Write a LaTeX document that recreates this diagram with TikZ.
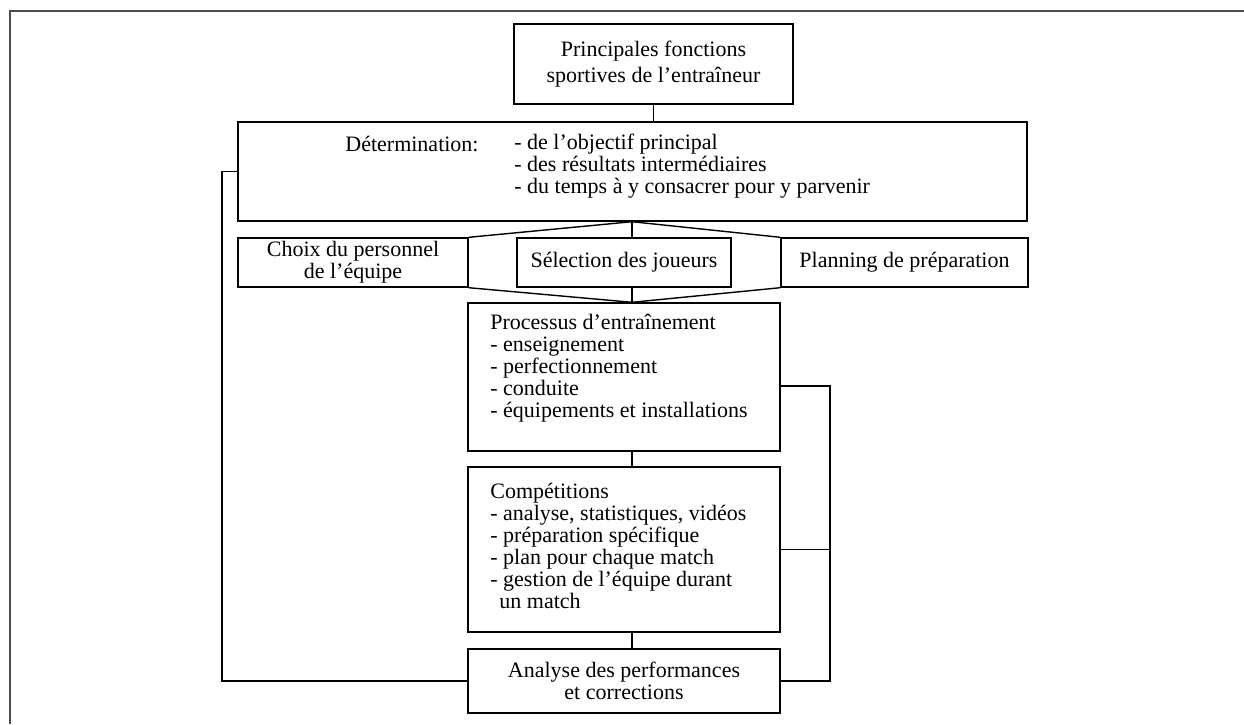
\documentclass[tikz,border=0pt]{standalone}
\usepackage{fontspec}
\setmainfont{Liberation Serif}
\usepackage{tikz}

\begin{document}
\begin{tikzpicture}[x=0.5pt, y=-0.5pt,
  boite/.style={draw, line width=0.7pt, inner sep=0pt, align=center,
    font=\fontsize{11}{11}\selectfont},
  texte/.style={inner sep=0pt, align=left, font=\fontsize{11}{11}\selectfont},
  lien/.style={line width=0.7pt}]
  \useasboundingbox (0,0) rectangle (1244,724);

  % cadre
  \draw[line width=1.2pt, black!70] (1244,11) -- (10,11) -- (10,724);

  % titre
  \node[boite, minimum width=139.5pt, minimum height=40pt,
    font=\fontsize{11}{13}\selectfont] (titre) at (653.5,64)
    {Principales fonctions\\sportives de l'entraîneur};

  % Détermination
  \node[boite, minimum width=394.5pt, minimum height=49.5pt] (det) at (632.5,171.5) {};
  \node[texte, anchor=west] (detlbl) at (345,144) {Détermination:};
  \node[texte, anchor=west] (detlst) at (514,166.5)
    {- de l'objectif principal\\- des résultats intermédiaires\\- du temps à y consacrer pour y parvenir};

  % choix, sélection, planning
  \node[boite, minimum width=115pt, minimum height=24.5pt] (choix) at (353,262.5)
    {Choix du personnel\\de l'équipe};
  \node[boite, minimum width=107pt, minimum height=24.5pt] (sel) at (624,262.5)
    {Sélection des joueurs};
  \node[boite, minimum width=123.5pt, minimum height=24.5pt] (plan) at (904.5,262.5)
    {Planning de préparation};

  % processus d'entraînement
  \node[boite, minimum width=156pt, minimum height=74pt] (proc) at (624,377) {};
  \node[texte, anchor=west] (proctxt) at (490,368.5)
    {Processus d'entraînement\\- enseignement\\- perfectionnement\\- conduite\\- équipements et installations};

  % compétitions
  \node[boite, minimum width=156pt, minimum height=82.5pt] (comp) at (624,549.5) {};
  \node[texte, anchor=west] (comptxt) at (490,545.5)
    {Compétitions\\- analyse, statistiques, vidéos\\- préparation spécifique\\- plan pour chaque match\\- gestion de l'équipe durant\\\hspace*{4.5pt}un match};

  % analyse
  \node[boite, minimum width=156pt, minimum height=32pt] (ana) at (624,681)
    {Analyse des performances\\et corrections};

  % liaisons
  \coordinate (axe) at (632,0);
  \coordinate (retG) at (222,0);
  \coordinate (retD) at (830,386);
  \draw[lien] (titre.south) -- (titre.south |- det.north);
  \draw[lien] (choix.north east) -- (det.south -| axe) -- (plan.north west);
  \draw[lien] (choix.south east) -- (proc.north -| axe) -- (plan.south west);
  \draw[lien] (det.south -| axe) -- (sel.north -| axe);
  \draw[lien] (sel.south -| axe) -- (proc.north -| axe);
  \draw[lien] (proc.south -| axe) -- (comp.north -| axe);
  \draw[lien] (comp.south -| axe) -- (ana.north -| axe);

  % retours
  \draw[lien] (det.west) -- (det.west -| retG) |- (ana.west);
  \draw[lien] (proc.east |- retD) -- (retD) |- (ana.east);
  \draw[lien] (comp.east) -- (comp.east -| retD);
\end{tikzpicture}
\end{document}
